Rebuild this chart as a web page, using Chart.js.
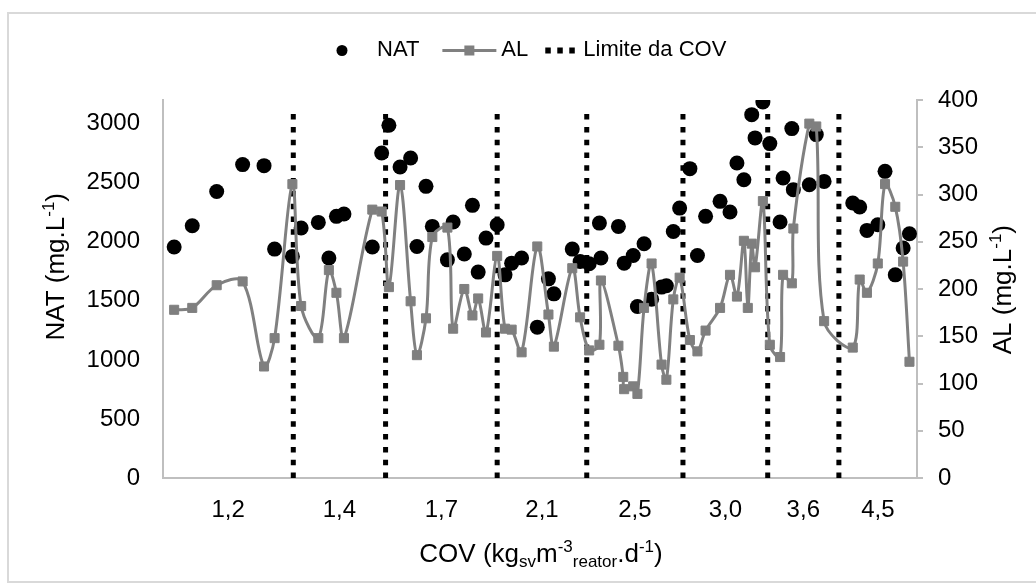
<!DOCTYPE html>
<html>
<head>
<meta charset="utf-8">
<script src="https://cdn.jsdelivr.net/npm/chart.js@4/dist/chart.umd.min.js"></script>
<style>
html,body{margin:0;padding:0;background:#fff;}
#wrap{position:relative;width:1036px;height:587px;}
</style>
</head>
<body>
<div id="wrap"><canvas id="c" width="1036" height="587"></canvas></div>
<script>
// ---- data (x = operating day) ----
const days = [3.7, 9.7, 17.8, 26.4, 33.5, 37.0, 42.9, 45.8, 51.5, 55.0,
  57.5, 60.0, 69.4, 72.5, 74.9, 78.6, 82.1, 84.2, 87.2, 89.3,
  94.3, 96.2, 99.9, 102.6, 104.5, 107.1, 110.8, 113.4, 115.6, 118.9,
  124.1, 127.8, 129.6, 135.7, 138.3, 141.3, 144.7, 145.2, 151.0, 152.6,
  152.9, 155.9, 157.3, 159.5, 162.0, 165.3, 166.9, 169.2, 171.3, 174.7,
  177.2, 179.9, 184.7, 188.0, 190.3, 192.6, 193.9, 195.2, 196.3, 198.9,
  201.2, 204.6, 205.6, 208.5, 209.0, 214.3, 216.6, 219.2, 228.7, 231.0,
  233.4, 237.0, 239.4, 242.8, 245.4, 247.5];
const natValues = [1955, 2136, 2426, 2653, 2644, 1938, 1876, 2116, 2164, 1862,
  2215, 2235, 1955, 2751, 2986, 2633, 2709, 1960, 2469, 2130,
  1847, 2167, 1896, 2308, 1743, 2031, 2144, 1720, 1819, 1862,
  1277, 1686, 1559, 1938, 1833, 1814, 2158, 1862, 2130, null,
  1819, 1884, 1452, 1983, 1514, 1616, 1627, 2087, 2285, 2619,
  1884, 2215, 2342, 2252, 2667, 2525, null, 3076, 2879, 3184,
  2831, 2167, 2540, 2958, 2441, 2483, 2907, 2511, 2328, 2294,
  2096, 2144, 2596, 1720, 1947, 2068];
const alValues = [178, 180, 204, 208, 118, 148, 311, 182, 148, 220,
  196, 148, 284, 282, 202, 310, 187, 130, 169, 255,
  265, 158, 200, 172, 190, 154, 235, 158, 157, 133,
  245, 173, 139, 222, 170, 135, 141, 209, 140, 107,
  94, 97, 89, 180, 227, 120, 104, 189, 212, 146,
  134, 156, 180, 215, 192, 251, 180, 248, 223, 293,
  141, 128, 215, 206, 264, 375, 372, 166, 138, 210,
  196, 227, 311, 287, 229, 123];
const covLimits = [43.2, 73.8, 110.8, 140.5, 172.4, 200.5, 224.1];
const covLabels = ['1,2', '1,4', '1,7', '2,1', '2,5', '3,0', '3,6', '4,5'];
const natTicks = [0, 500, 1000, 1500, 2000, 2500, 3000];
const alTicks = [0, 50, 100, 150, 200, 250, 300, 350, 400];
const limitTop = 3100;
const xMin = 0, xMax = 250;
const natMax = 3200, alMax = 400;

// ---- derived ----
const natPoints = [];
days.forEach((d, i) => { if (natValues[i] !== null) natPoints.push({x: d, y: natValues[i]}); });
const alPoints = days.map((d, i) => ({x: d, y: alValues[i]}));
const limitPoints = [];
covLimits.forEach(l => { limitPoints.push({x: l, y: 0}, {x: l, y: limitTop}, {x: l, y: null}); });
const bounds = [xMin, ...covLimits, xMax];
const labelPos = covLabels.map((_, i) => (bounds[i] + bounds[i + 1]) / 2);

const FONT = "'Liberation Sans', Arial, sans-serif";
Chart.defaults.font.family = FONT;
Chart.defaults.color = '#000';

function richParts(parts, base) {
  return parts.map(p => ({t: p.t, s: p.s, f: (p.s ? Math.round(base * 0.66) : base)}));
}
function richWidth(ctx, parts) {
  let w = 0;
  parts.forEach(p => { ctx.font = p.f + 'px ' + FONT; w += ctx.measureText(p.t).width; });
  return w;
}
function drawRich(ctx, parts, x, y) {
  parts.forEach(p => {
    ctx.font = p.f + 'px ' + FONT;
    const dy = p.s === 'sub' ? 5 : (p.s === 'sup' ? -10 : 0);
    ctx.fillText(p.t, x, y + dy);
    x += ctx.measureText(p.t).width;
  });
}

const xTitle = [{t: 'COV (kg'}, {t: 'sv', s: 'sub'}, {t: 'm'}, {t: '-3', s: 'sup'}, {t: 'reator', s: 'sub'}, {t: '.d'}, {t: '-1', s: 'sup'}, {t: ')'}];
const yLTitle = [{t: 'NAT (mg.L'}, {t: '-1', s: 'sup'}, {t: ')'}];
const yRTitle = [{t: 'AL (mg.L'}, {t: '-1', s: 'sup'}, {t: ')'}];

const decor = {
  id: 'decor',
  beforeDraw(chart) {
    const ctx = chart.ctx;
    ctx.save();
    ctx.fillStyle = '#fff';
    ctx.fillRect(0, 0, chart.width, chart.height);
    ctx.strokeStyle = '#d9d9d9';
    ctx.lineWidth = 2;
    ctx.strokeRect(8, 13, 1040, 569);
    ctx.restore();
  },
  afterDraw(chart) {
    const ctx = chart.ctx;
    const ds = chart.data.datasets;
    ctx.save();
    ctx.fillStyle = '#000';
    ctx.textBaseline = 'alphabetic';
    // axis titles
    let p = richParts(xTitle, 26);
    let w = richWidth(ctx, p);
    drawRich(ctx, p, 541 - w / 2, 562);
    p = richParts(yLTitle, 26);
    w = richWidth(ctx, p);
    ctx.save(); ctx.translate(64, 193 + w / 2); ctx.rotate(-Math.PI / 2); drawRich(ctx, p, -w / 2, 0); ctx.restore();
    p = richParts(yRTitle, 26);
    w = richWidth(ctx, p);
    ctx.save(); ctx.translate(1011, 225 + w / 2); ctx.rotate(-Math.PI / 2); drawRich(ctx, p, -w / 2, 0); ctx.restore();

    // legend
    ctx.font = '22px ' + FONT;
    ctx.textBaseline = 'middle';
    const cy = 50;
    let x = 315;
    ctx.beginPath(); ctx.arc(x + 27, cy + 0.5, 5.5, 0, Math.PI * 2); ctx.fill();
    x += 62;
    ctx.fillText(ds[0].label, x, cy);
    x += ctx.measureText(ds[0].label).width + 23;
    ctx.strokeStyle = '#808080'; ctx.lineWidth = 3;
    ctx.beginPath(); ctx.moveTo(x, cy + 0.5); ctx.lineTo(x + 54, cy + 0.5); ctx.stroke();
    ctx.fillStyle = '#7f7f7f'; ctx.fillRect(x + 27 - 5, cy - 4.5, 10, 10);
    x += 59;
    ctx.fillStyle = '#000';
    ctx.fillText(ds[1].label, x, cy);
    x += ctx.measureText(ds[1].label).width + 17;
    for (let k = 0; k < 3; k++) ctx.fillRect(x + k * 12, cy - 2.5, 5.5, 6);
    x += 38;
    ctx.fillText(ds[2].label, x, cy);
    ctx.restore();
  }
};

new Chart(document.getElementById('c'), {
  type: 'scatter',
  data: {
    datasets: [
      {
        label: 'NAT', data: natPoints, yAxisID: 'yL', order: 1,
        showLine: false, pointRadius: 7.5, pointHoverRadius: 7.5,
        backgroundColor: '#000', borderColor: '#000', borderWidth: 0
      },
      {
        label: 'AL', data: alPoints, yAxisID: 'yR', order: 0,
        showLine: true, tension: 0.33, borderColor: '#808080', borderWidth: 3,
        pointStyle: 'rect', pointRadius: 6.4, pointHoverRadius: 6.4,
        pointBackgroundColor: '#7f7f7f', pointBorderColor: '#7f7f7f', pointBorderWidth: 1
      },
      {
        label: 'Limite da COV', data: limitPoints, yAxisID: 'yL', order: 2,
        showLine: true, spanGaps: false, pointRadius: 0, pointHoverRadius: 0,
        borderColor: '#000', borderWidth: 5, borderDash: [5.5, 7.3], borderCapStyle: 'butt',
        tension: 0
      }
    ]
  },
  options: {
    responsive: false,
    animation: false,
    events: [],
    layout: {padding: {top: 100, left: 0, right: 0, bottom: 0}},
    plugins: {legend: {display: false}, tooltip: {enabled: false}},
    scales: {
      x: {
        type: 'linear', position: 'bottom', min: xMin, max: xMax,
        grid: {display: false, drawTicks: false},
        border: {display: true, color: '#bfbfbf', width: 2},
        ticks: {
          autoSkip: false, maxRotation: 0, padding: 18,
          font: {size: 24}, color: '#000',
          callback: (v, i) => covLabels[i]
        },
        afterBuildTicks: s => { s.ticks = labelPos.map(v => ({value: v})); },
        afterFit: s => { s.height = 109; }
      },
      yL: {
        type: 'linear', position: 'left', min: 0, max: natMax,
        grid: {display: false, drawTicks: false},
        border: {display: true, color: '#bfbfbf', width: 2},
        ticks: {
          autoSkip: false, padding: 23, font: {size: 24}, color: '#000',
          callback: v => String(v)
        },
        afterBuildTicks: s => { s.ticks = natTicks.map(v => ({value: v})); },
        afterFit: s => { s.width = 163; }
      },
      yR: {
        type: 'linear', position: 'right', min: 0, max: alMax,
        grid: {display: true, drawOnChartArea: false, drawTicks: true, tickLength: 6, color: '#bfbfbf', lineWidth: 2},
        border: {display: true, color: '#bfbfbf', width: 2},
        ticks: {
          autoSkip: false, padding: 15, font: {size: 24}, color: '#000',
          callback: v => String(v)
        },
        afterBuildTicks: s => { s.ticks = alTicks.map(v => ({value: v})); },
        afterFit: s => { s.width = 119; }
      }
    }
  },
  plugins: [decor]
});
</script>
</body>
</html>
